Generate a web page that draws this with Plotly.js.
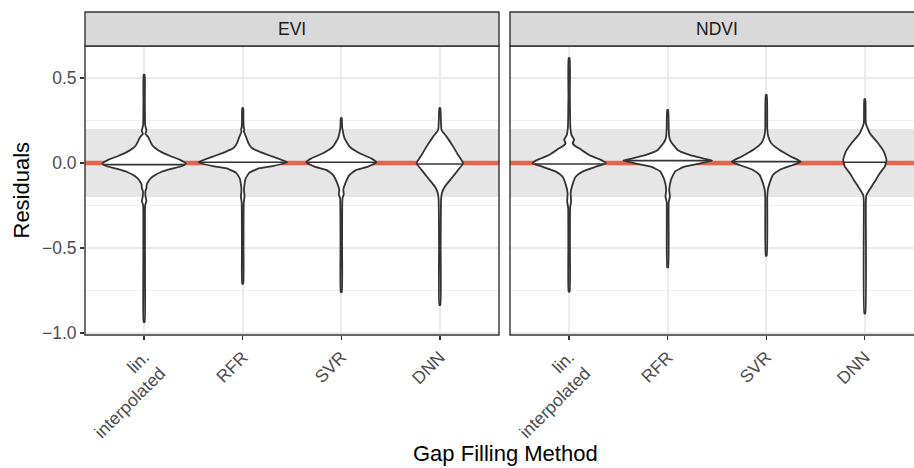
<!DOCTYPE html>
<html>
<head>
<meta charset="utf-8">
<script src="https://cdn.plot.ly/plotly-3.0.1.min.js"></script>
<style>html,body{margin:0;padding:0;background:#fff;}#chart{width:914px;height:468px;}</style>
</head>
<body>
<div id="chart"></div>
<script>
// ---- data ----
const facets = ['EVI', 'NDVI'];
const methods = ['lin.<br>interpolated', 'RFR', 'SVR', 'DNN'];
const bandLow = -0.2, bandHigh = 0.2, refLine = 0;

// violin density profiles: residual levels (top -> bottom) and relative density (1 = widest)
const evi_lin_y = [0.518,0.371,0.224,0.188,0.171,0.153,0.129,0.106,0.088,0.065,0.041,0.018,-0.003,-0.018,-0.035,-0.053,-0.071,-0.088,-0.106,-0.129,-0.147,-0.165,-0.194,-0.224,-0.247,-0.394,-0.69,-0.935];
const evi_lin_d = [0.012,0.016,0.023,0.052,0.027,0.09,0.135,0.18,0.248,0.383,0.586,0.811,0.939,0.856,0.608,0.383,0.248,0.158,0.101,0.056,0.052,0.029,0.029,0.052,0.023,0.018,0.02,0.012];
const evi_rfr_y = [0.322,0.25,0.21,0.197,0.185,0.155,0.13,0.106,0.085,0.067,0.037,0.004,-0.018,-0.031,-0.057,-0.09,-0.13,-0.16,-0.198,-0.235,-0.5,-0.71];
const evi_rfr_d = [0.012,0.016,0.023,0.036,0.027,0.074,0.108,0.151,0.225,0.376,0.676,1.0,0.676,0.376,0.151,0.068,0.038,0.029,0.041,0.023,0.018,0.012];
const evi_svr_y = [0.263,0.22,0.194,0.145,0.096,0.057,0.027,0.004,-0.022,-0.041,-0.07,-0.12,-0.159,-0.184,-0.208,-0.5,-0.76];
const evi_svr_d = [0.012,0.018,0.029,0.074,0.187,0.412,0.676,0.788,0.601,0.338,0.187,0.09,0.045,0.056,0.027,0.018,0.012];
const evi_dnn_y = [0.322,0.253,0.194,0.155,0.096,0.047,-0.002,-0.041,-0.09,-0.139,-0.178,-0.218,-0.5,-0.835];
const evi_dnn_d = [0.012,0.023,0.038,0.151,0.3,0.412,0.525,0.412,0.264,0.113,0.045,0.027,0.018,0.012];
const ndvi_lin_y = [0.616,0.4,0.25,0.204,0.165,0.137,0.116,0.1,0.086,0.047,0.018,-0.002,-0.022,-0.051,-0.08,-0.129,-0.178,-0.227,-0.26,-0.5,-0.757];
const ndvi_lin_d = [0.012,0.016,0.023,0.029,0.052,0.113,0.079,0.135,0.225,0.45,0.714,0.827,0.601,0.3,0.151,0.074,0.034,0.045,0.023,0.018,0.012];
const ndvi_rfr_y = [0.312,0.2,0.155,0.125,0.076,0.047,0.027,0.014,-0.002,-0.022,-0.051,-0.1,-0.159,-0.198,-0.23,-0.614];
const ndvi_rfr_d = [0.012,0.023,0.034,0.074,0.225,0.489,0.788,1.0,0.743,0.376,0.164,0.074,0.034,0.05,0.023,0.012];
const ndvi_svr_y = [0.4,0.2,0.155,0.116,0.076,0.037,0.008,-0.012,-0.041,-0.07,-0.12,-0.159,-0.2,-0.545];
const ndvi_svr_d = [0.012,0.023,0.045,0.113,0.3,0.563,0.777,0.601,0.3,0.151,0.074,0.034,0.023,0.012];
const ndvi_dnn_y = [0.376,0.233,0.175,0.116,0.067,0.018,-0.022,-0.061,-0.1,-0.139,-0.19,-0.23,-0.884];
const ndvi_dnn_d = [0.012,0.023,0.113,0.3,0.428,0.489,0.45,0.338,0.248,0.151,0.034,0.023,0.012];
// medians per facet, in method order
const evi_median = [-0.01, 0.004, 0.004, -0.006];
const ndvi_median = [-0.006, 0.014, 0.008, 0.004];

const yTickVals = [-1, -0.5, 0, 0.5];
const yTickText = ['\u22121.0', '\u22120.5', '0.0', '0.5'];

// ---- drawing ----
const profiles = {
  EVI: [[evi_lin_y, evi_lin_d], [evi_rfr_y, evi_rfr_d], [evi_svr_y, evi_svr_d], [evi_dnn_y, evi_dnn_d]],
  NDVI: [[ndvi_lin_y, ndvi_lin_d], [ndvi_rfr_y, ndvi_rfr_d], [ndvi_svr_y, ndvi_svr_d], [ndvi_dnn_y, ndvi_dnn_d]]
};
const medians = {EVI: evi_median, NDVI: ndvi_median};
const HALF = 0.45;
const W = 914, H = 468;
const px = x => x / W, py = y => 1 - y / H;
const FONT = 'Liberation Sans, Arial, Helvetica, sans-serif';
const DARK = '#333333';
const xRanges = [[0.4, 4.6], [0.4, 4.499]];

function interp(ys, ds, v) {
  for (let i = 0; i < ys.length - 1; i++) {
    const a = ys[i], b = ys[i + 1];
    if ((v <= a && v >= b)) {
      const t = (a - v) / (a - b);
      return ds[i] + t * (ds[i + 1] - ds[i]);
    }
  }
  return 0;
}

const traces = [];
facets.forEach((f, fi) => {
  const xa = fi === 0 ? 'x' : 'x2', ya = fi === 0 ? 'y' : 'y2';
  // reference line at zero, drawn under the violins
  traces.push({type: 'scatter', mode: 'lines', x: xRanges[fi], y: [refLine, refLine], xaxis: xa, yaxis: ya,
    line: {color: '#E5634C', width: 4.5}, hoverinfo: 'skip', showlegend: false, cliponaxis: true});
  profiles[f].forEach(([ys, ds], mi) => {
    const c = mi + 1;
    const xs = [], yy = [];
    for (let i = 0; i < ys.length; i++) { xs.push(c + ds[i] * HALF); yy.push(ys[i]); }
    for (let i = ys.length - 1; i >= 0; i--) { xs.push(c - ds[i] * HALF); yy.push(ys[i]); }
    xs.push(xs[0]); yy.push(yy[0]);
    traces.push({type: 'scatter', mode: 'lines', x: xs, y: yy, xaxis: xa, yaxis: ya,
      fill: 'toself', fillcolor: '#FFFFFF', line: {color: DARK, width: 1.8, shape: 'spline', smoothing: 0.4},
      hoverinfo: 'skip', showlegend: false});
    const m = medians[f][mi];
    const hw = interp(ys, ds, m) * HALF;
    traces.push({type: 'scatter', mode: 'lines', x: [c - hw, c + hw], y: [m, m], xaxis: xa, yaxis: ya,
      line: {color: DARK, width: 1.6}, hoverinfo: 'skip', showlegend: false});
  });
});

const panelTop = 46, panelBot = 335;
const xDom1 = [px(85), px(499)], xDom2 = [px(510), 1];
const yDom = [py(panelBot), py(panelTop)];
const yRange = [-1.012, 0.688];

function xAxis(dom, rng, anchor) {
  return {domain: dom, range: rng, anchor: anchor, tickmode: 'array', tickvals: [1, 2, 3, 4], ticktext: methods,
    tickangle: -45, ticks: 'outside', ticklen: 4, tickwidth: 1.3, tickcolor: DARK,
    showgrid: true, gridcolor: '#EBEBEB', gridwidth: 1.6, zeroline: false, showline: false,
    tickfont: {family: FONT, size: 17.5, color: '#4D4D4D'}, fixedrange: true};
}
function yAxis(anchor, labels) {
  return {domain: yDom, range: yRange, anchor: anchor, tickmode: 'array', tickvals: yTickVals, ticktext: yTickText,
    showticklabels: labels, ticks: labels ? 'outside' : '', ticklen: 4, tickwidth: 1.3, tickcolor: DARK,
    showgrid: true, gridcolor: '#EBEBEB', gridwidth: 1.6, zeroline: false, showline: false,
    minor: {tickmode: 'linear', tick0: 0, dtick: 0.25, showgrid: true, gridcolor: '#EEEEEE', gridwidth: 0.9, ticks: ''},
    tickfont: {family: FONT, size: 17.5, color: '#4D4D4D'}, fixedrange: true};
}

const shapes = [];
[[xDom1, 'y'], [xDom2, 'y2']].forEach(([dom, ya]) => {
  shapes.push({type: 'rect', xref: 'paper', yref: ya, x0: dom[0], x1: dom[1], y0: bandLow, y1: bandHigh,
    fillcolor: '#E6E6E6', line: {width: 0}, layer: 'between'});
});
// panel borders and strips
[[85, 499], [510, 924]].forEach(([l, r]) => {
  shapes.push({type: 'rect', xref: 'paper', yref: 'paper', x0: px(l), x1: px(r), y0: py(panelBot), y1: py(panelTop),
    line: {color: DARK, width: 1.4}, fillcolor: 'rgba(0,0,0,0)', layer: 'above'});
  shapes.push({type: 'rect', xref: 'paper', yref: 'paper', x0: px(l), x1: px(r), y0: py(panelTop), y1: py(12),
    line: {color: DARK, width: 1.4}, fillcolor: '#D9D9D9', layer: 'above'});
});

const annotations = [
  {text: 'EVI', xref: 'paper', yref: 'paper', x: px(292), y: py(29), showarrow: false,
    xanchor: 'center', yanchor: 'middle', font: {family: FONT, size: 17.5, color: '#1A1A1A'}},
  {text: 'NDVI', xref: 'paper', yref: 'paper', x: px(717), y: py(29), showarrow: false,
    xanchor: 'center', yanchor: 'middle', font: {family: FONT, size: 17.5, color: '#1A1A1A'}},
  {text: 'Residuals', xref: 'paper', yref: 'paper', x: px(21), y: py(190.5), showarrow: false, textangle: -90,
    xanchor: 'center', yanchor: 'middle', font: {family: FONT, size: 22, color: '#000000'}},
  {text: 'Gap Filling Method', xref: 'paper', yref: 'paper', x: px(505), y: py(468), showarrow: false,
    xanchor: 'center', yanchor: 'bottom', font: {family: FONT, size: 22, color: '#000000'}}
];

const layout = {
  width: W, height: H, margin: {l: 0, r: 0, t: 0, b: 0}, paper_bgcolor: '#FFFFFF', plot_bgcolor: '#FFFFFF',
  showlegend: false, font: {family: FONT},
  xaxis: xAxis(xDom1, xRanges[0], 'y'),
  xaxis2: xAxis(xDom2, xRanges[1], 'y2'),
  yaxis: yAxis('x', true),
  yaxis2: Object.assign(yAxis('x2', false), {matches: 'y'}),
  shapes: shapes, annotations: annotations
};

Plotly.newPlot('chart', traces, layout, {displayModeBar: false, staticPlot: true});
</script>
</body>
</html>
